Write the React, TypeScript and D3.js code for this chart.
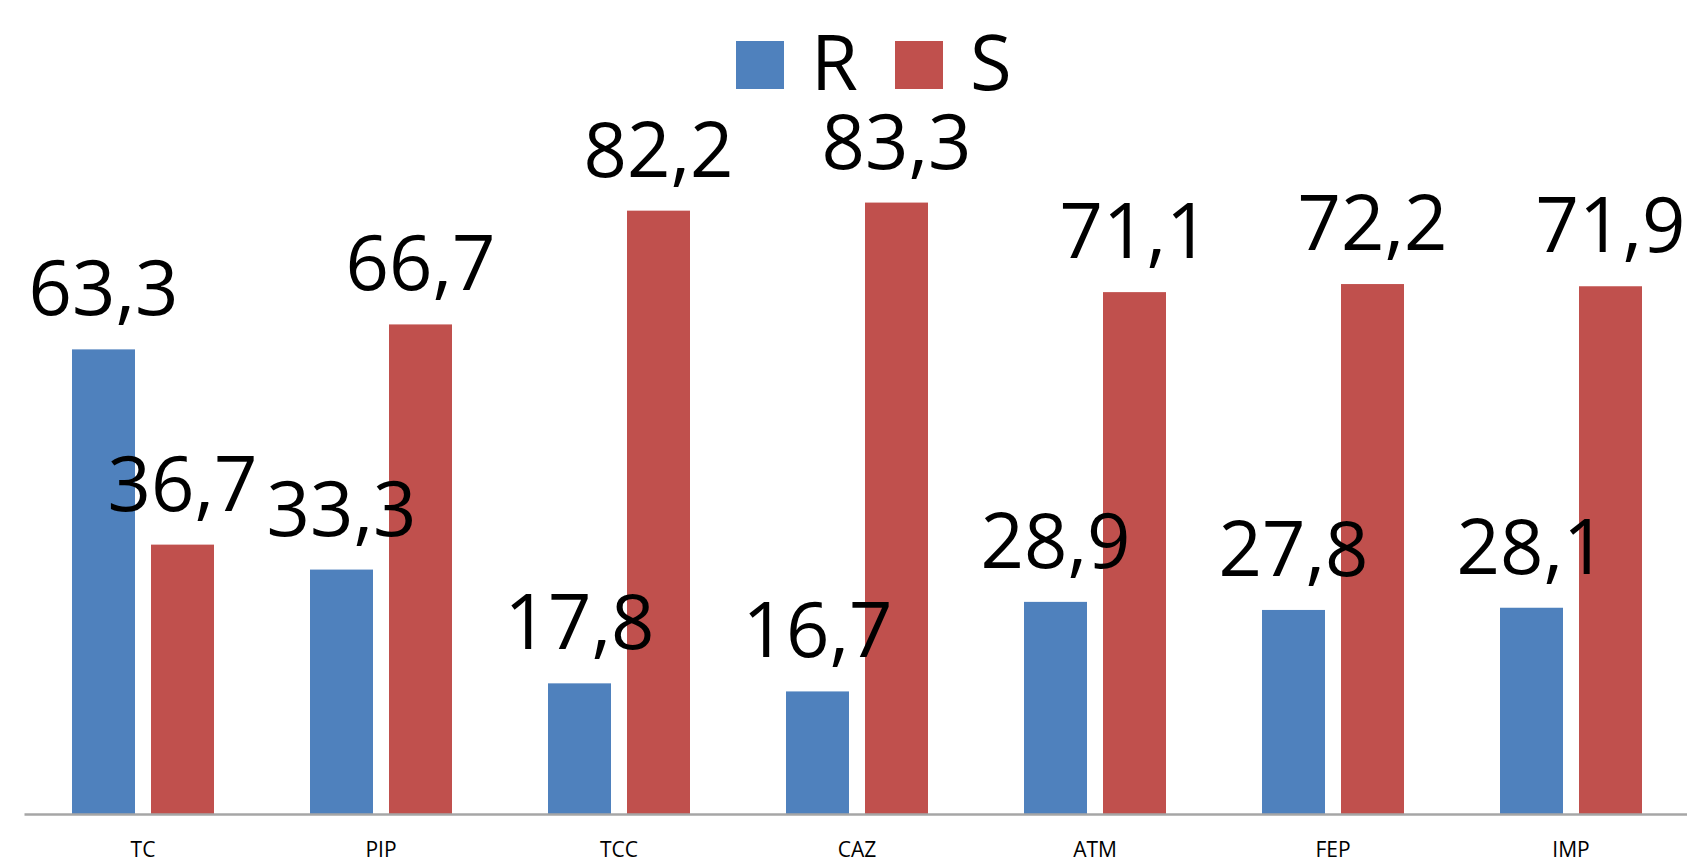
import React from "react";
import * as d3 from "d3";

const categories = ["TC", "PIP", "TCC", "CAZ", "ATM", "FEP", "IMP"];
const seriesKeys = ["R", "S"];
const valuesR = [63.3, 33.3, 17.8, 16.7, 28.9, 27.8, 28.1];
const valuesS = [36.7, 66.7, 82.2, 83.3, 71.1, 72.2, 71.9];

const colors: Record<string, string> = { R: "#4F81BD", S: "#C0504D" };
const FONT = "'Open Sans', 'Noto Sans', sans-serif";

export default function App() {
  const width = 1687;
  const height = 859;
  const baseY = 814;
  const axisRef = React.useRef<SVGGElement>(null);

  const x0 = d3.scaleBand().domain(categories).range([24, 24 + 238 * categories.length]).padding(0);
  const x1 = d3
    .scaleBand()
    .domain(seriesKeys)
    .range([0, x0.bandwidth()])
    .paddingInner(0.2025)
    .paddingOuter(0.6076);
  const y = d3.scaleLinear().domain([0, 100]).range([baseY, baseY - 734]);

  const rows = categories.map((c, i) => ({ cat: c, R: valuesR[i], S: valuesS[i] }));
  const fmt = (v: number) => v.toFixed(1).replace(".", ",");

  React.useEffect(() => {
    const g = d3.select(axisRef.current);
    g.selectAll("*").remove();
    const axis = d3.axisBottom(x0).tickSize(0).tickSizeOuter(0).tickPadding(28);
    g.call(axis as any);
    g.select(".domain").attr("stroke", "#A6A6A6").attr("stroke-width", 2.5);
    g.selectAll("text")
      .attr("font-size", 21)
      .attr("font-family", FONT)
      .attr("fill", "#000");
  }, []);

  return (
    <svg
      width={width}
      height={height}
      style={{ position: "absolute", left: 0, top: 0, display: "block", background: "#fff" }}
    >
      {rows.map((d) => (
        <g key={d.cat} transform={`translate(${x0(d.cat)},0)`}>
          {seriesKeys.map((k) => {
            const v = (d as any)[k] as number;
            return (
              <g key={k}>
                <rect
                  x={x1(k)}
                  y={y(v)}
                  width={x1.bandwidth()}
                  height={baseY - y(v)}
                  fill={colors[k]}
                />
              </g>
            );
          })}
        </g>
      ))}
      <g ref={axisRef} transform={`translate(0,${baseY})`} />
      {rows.map((d) => (
        <g key={d.cat + "-lbl"} transform={`translate(${x0(d.cat)},0)`}>
          {seriesKeys.map((k) => {
            const v = (d as any)[k] as number;
            return (
              <text
                key={k}
                x={(x1(k) as number) + x1.bandwidth() / 2}
                y={y(v) - 34}
                textAnchor="middle"
                fontFamily={FONT}
                fontSize={76}
                fill="#000"
              >
                {fmt(v)}
              </text>
            );
          })}
        </g>
      ))}
      {seriesKeys.map((k, i) => (
        <g key={"leg-" + k} transform={`translate(${736 + i * 159},0)`}>
          <rect x={0} y={41} width={48} height={48} fill={colors[k]} />
          <text x={75} y={90} fontFamily={FONT} fontSize={76} fill="#000">
            {k}
          </text>
        </g>
      ))}
    </svg>
  );
}
